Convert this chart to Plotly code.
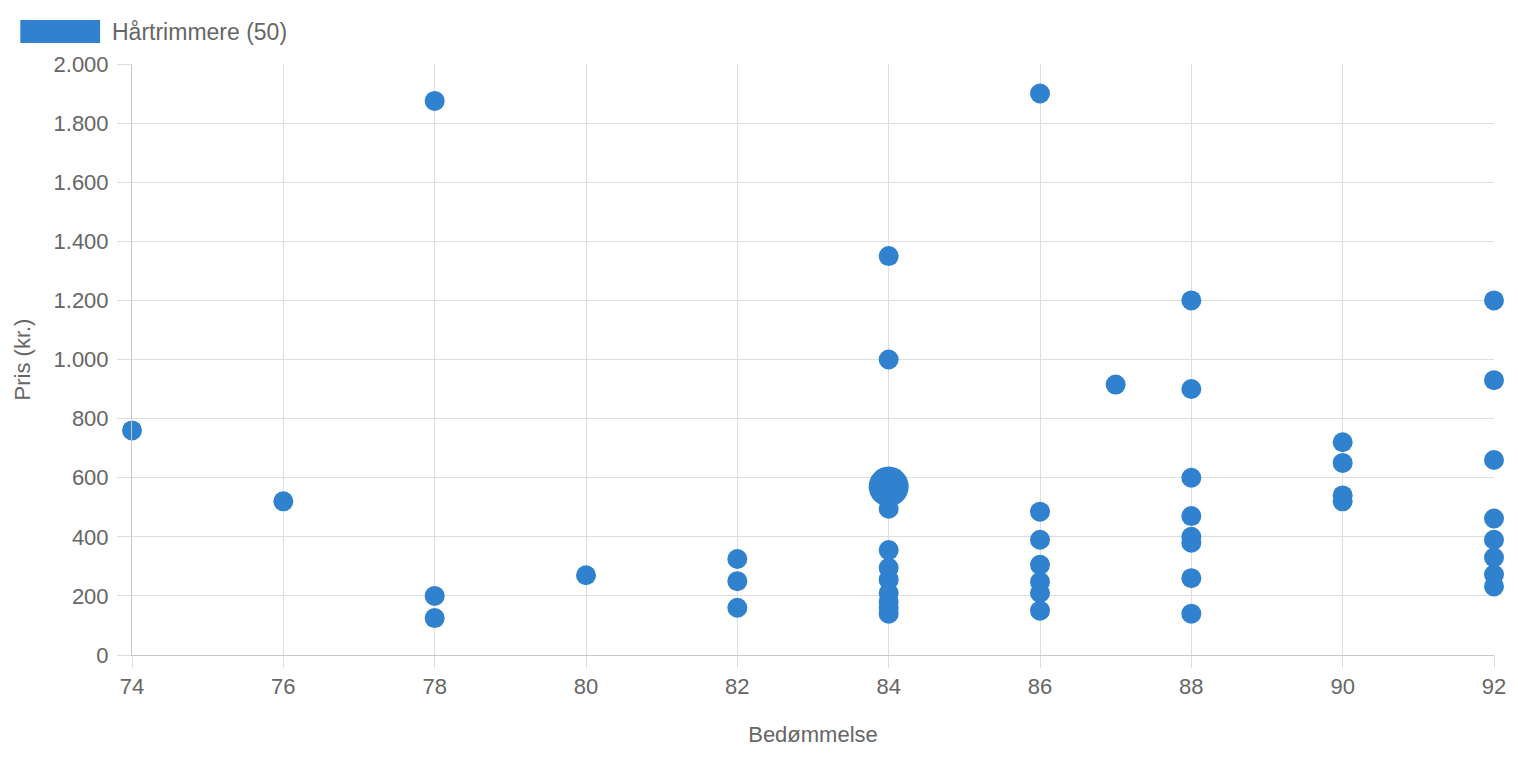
import plotly.graph_objects as go

# Data
ratings = [74,
           76,
           78, 78, 78,
           80,
           82, 82, 82,
           84, 84, 84, 84, 84, 84, 84, 84, 84, 84, 84,
           86, 86, 86, 86, 86, 86, 86,
           87,
           88, 88, 88, 88, 88, 88, 88, 88,
           90, 90, 90, 90,
           92, 92, 92, 92, 92, 92, 92, 92]
prices = [760,
          520,
          1875, 200, 125,
          270,
          325, 250, 160,
          1350, 1000, 570, 495, 355, 295, 255, 210, 180, 160, 140,
          1900, 485, 390, 305, 248, 210, 150,
          915,
          1200, 900, 600, 470, 400, 380, 260, 140,
          720, 650, 540, 520,
          1200, 930, 660, 462, 390, 330, 272, 232]
counts = [1,
          1,
          1, 1, 1,
          1,
          1, 1, 1,
          1, 1, 3, 1, 1, 1, 1, 1, 1, 1, 1,
          1, 1, 1, 1, 1, 1, 1,
          1,
          1, 1, 1, 1, 1, 1, 1, 1,
          1, 1, 1, 1,
          1, 1, 1, 1, 1, 1, 1, 1]
series_name = "Hårtrimmere"
x_title = "Bedømmelse"
y_title = "Pris (kr.)"

BLUE = "#3182ce"
GRID = "#dedede"
AXIS = "#c8c8c8"
TXT = "#666666"
FONT = "Liberation Sans, Arial, Helvetica, sans-serif"
FS = 22

sizes = [20 if c == 1 else 40 for c in counts]

fig = go.Figure()
fig.add_trace(go.Scatter(
    x=ratings, y=prices, mode="markers",
    marker=dict(color=BLUE, size=sizes, line=dict(width=0), opacity=1),
    cliponaxis=False, showlegend=False, name=series_name,
))

fig.update_layout(
    width=1518, height=758,
    margin=dict(l=132, r=20, t=64, b=103),
    paper_bgcolor="white", plot_bgcolor="white",
    separators=",.",
    font=dict(family=FONT, size=FS, color=TXT),
    showlegend=False,
    xaxis=dict(
        range=[74, 92], dtick=2, tick0=74,
        showgrid=True, gridcolor=GRID, gridwidth=1,
        zeroline=False,
        showline=True, linecolor=AXIS, linewidth=1, mirror=False,
        ticks="outside", ticklen=12, tickcolor=GRID,
        tickfont=dict(size=FS, color=TXT),
        title=dict(text=x_title, font=dict(size=FS, color=TXT), standoff=28),
    ),
    yaxis=dict(
        range=[0, 2000], dtick=200, tick0=0, tickformat=",d",
        showgrid=True, gridcolor=GRID, gridwidth=1,
        zeroline=False,
        showline=True, linecolor=AXIS, linewidth=1,
        ticks="outside", ticklen=14, tickcolor=GRID,
        ticklabelstandoff=4,
        tickfont=dict(size=FS, color=TXT),
        title=dict(text=y_title, font=dict(size=FS, color=TXT), standoff=16),
    ),
)

# Custom legend: wide colour box plus label
fig.add_shape(type="rect", xref="paper", yref="paper",
              x0=(20 - 132) / 1366, x1=(100 - 132) / 1366,
              y0=(655 - 43) / 591, y1=(655 - 20) / 591,
              fillcolor=BLUE, line=dict(width=0))
fig.add_annotation(xref="paper", yref="paper",
                   x=(110 - 132) / 1366, y=(655 - 32) / 591,
                   xanchor="left", yanchor="middle", showarrow=False,
                   text=f"{series_name} ({sum(counts)})",
                   font=dict(size=23, color=TXT, family=FONT))

fig.write_html("out.html")
